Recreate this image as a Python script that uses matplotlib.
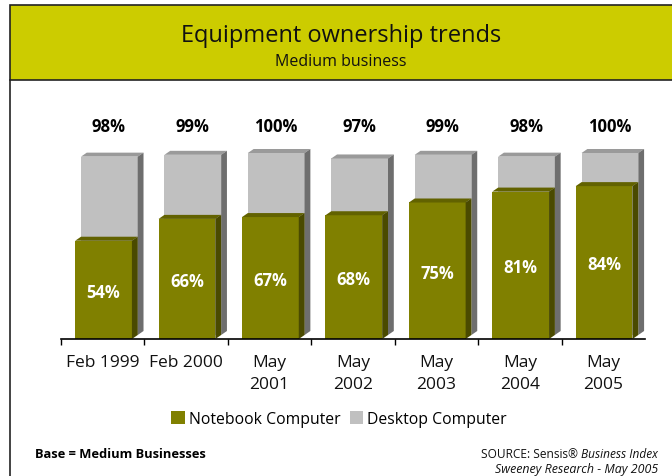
import matplotlib
matplotlib.use("Agg")
import matplotlib.pyplot as plt
from matplotlib.patches import Rectangle, Polygon, Patch
from matplotlib.lines import Line2D
import numpy as np

plt.rcParams['font.family'] = ['Open Sans', 'DejaVu Sans']

# survey waves and ownership shares (%)
periods = ['Feb 1999', 'Feb 2000', 'May\n2001', 'May\n2002', 'May\n2003', 'May\n2004', 'May\n2005']
notebook = [54, 66, 67, 68, 75, 81, 84]
desktop = [98, 99, 100, 97, 99, 98, 100]

W, H = 672, 477
OLIVE = ['#808000', '#626200', '#4a4a00']     # front, top, side
GREY = ['#c0c0c0', '#9a9a9a', '#6e6e6e']


def fx(px):
    return px / W


def fy(py):
    return 1 - py / H


fig = plt.figure(figsize=(W / 100, H / 100), dpi=100)

# header band and page border
fig.patches.append(Rectangle((fx(10), fy(81)), fx(700), 75 / H, transform=fig.transFigure,
                             facecolor='#cccc00', edgecolor='#222222', linewidth=1.2))
fig.lines.append(Line2D([fx(10), fx(10)], [fy(81), fy(480)], transform=fig.transFigure,
                        color='#222222', linewidth=1.2))
fig.text(fx(341), fy(36), 'Equipment ownership trends', ha='center', va='center',
         fontsize=17, color='#111111')
fig.text(fx(341), fy(62), 'Medium business', ha='center', va='center',
         fontsize=11.5, color='#111111')

ax = fig.add_axes([fx(61), fy(340), 584 / W, 220 / H])
ymax = 220 / 1.82
ax.set_xlim(-0.5, len(periods) - 0.5)
ax.set_ylim(0, ymax)

# depth of the 3d extrusion in data units
ddx = 5.8 / (584 / len(periods))
ddy = 4.0 / 1.82
bw = 0.68
x = np.arange(len(periods))


def bar3d(lefts, bottom, heights, cols, z):
    ax.bar(lefts, heights, width=bw, bottom=bottom, align='edge', color=cols[0],
           linewidth=0, zorder=z)
    for l, h in zip(lefts, heights):
        top = bottom + h
        ax.add_patch(Polygon([(l, top), (l + ddx, top + ddy), (l + bw + ddx, top + ddy), (l + bw, top)],
                             closed=True, facecolor=cols[1], linewidth=0, zorder=z))
        ax.add_patch(Polygon([(l + bw, bottom), (l + bw + ddx, bottom + ddy),
                              (l + bw + ddx, top + ddy), (l + bw, top)],
                             closed=True, facecolor=cols[2], linewidth=0, zorder=z))


lefts = x - bw / 2 + 0.01
bar3d(lefts + ddx, ddy, desktop, GREY, 2)
bar3d(lefts, 0, notebook, OLIVE, 3)

for xi, v in zip(x, desktop):
    ax.text(xi + 0.075, 117, f'{v}%', ha='center', va='center', fontsize=12,
            fontweight='bold', color='black')
for xi, v in zip(x, notebook):
    ax.text(xi + 0.01, v / 2 - 1, f'{v}%', ha='center', va='center', fontsize=12,
            fontweight='bold', color='white', zorder=5)

for s in ['top', 'right', 'left']:
    ax.spines[s].set_visible(False)
ax.spines['bottom'].set_color('black')
ax.spines['bottom'].set_linewidth(1.2)
ax.spines['bottom'].set_zorder(6)
ax.set_yticks([])
ax.set_xticks(x)
ax.set_xticklabels(periods, fontsize=12.5, linespacing=1.5, color='#111111')
ax.tick_params(axis='x', which='major', length=0, pad=11)
ax.set_xticks(x - 0.5, minor=True)
ax.tick_params(axis='x', which='minor', length=4, width=1, direction='out')
ax.patch.set_visible(False)

handles = [Patch(facecolor=OLIVE[0], edgecolor='none', label='Notebook Computer'),
           Patch(facecolor=GREY[0], edgecolor='none', label='Desktop Computer')]
fig.legend(handles=handles, loc='center', bbox_to_anchor=(fx(339), fy(420)), ncol=2,
           frameon=False, fontsize=11.3, handlelength=0.85, handleheight=0.85,
           handletextpad=0.25, columnspacing=0.6, borderpad=0)

fig.text(fx(35), fy(455), 'Base = Medium Businesses', ha='left', va='center',
         fontsize=9.3, fontweight='bold', color='black')

renderer = fig.canvas.get_renderer()
t_it = fig.text(fx(658), fy(455), 'Business Index', ha='right', va='center',
                fontsize=8.6, style='italic', color='#111111')
bb = t_it.get_window_extent(renderer)
fig.text(bb.x0 / fig.bbox.width - fx(3), fy(455), 'SOURCE: Sensis®', ha='right',
         va='center', fontsize=8.6, color='#111111')
fig.text(fx(658), fy(470), 'Sweeney Research - May 2005', ha='right', va='center',
         fontsize=8.9, style='italic', color='#111111')

fig.savefig('out.png', dpi=100)
